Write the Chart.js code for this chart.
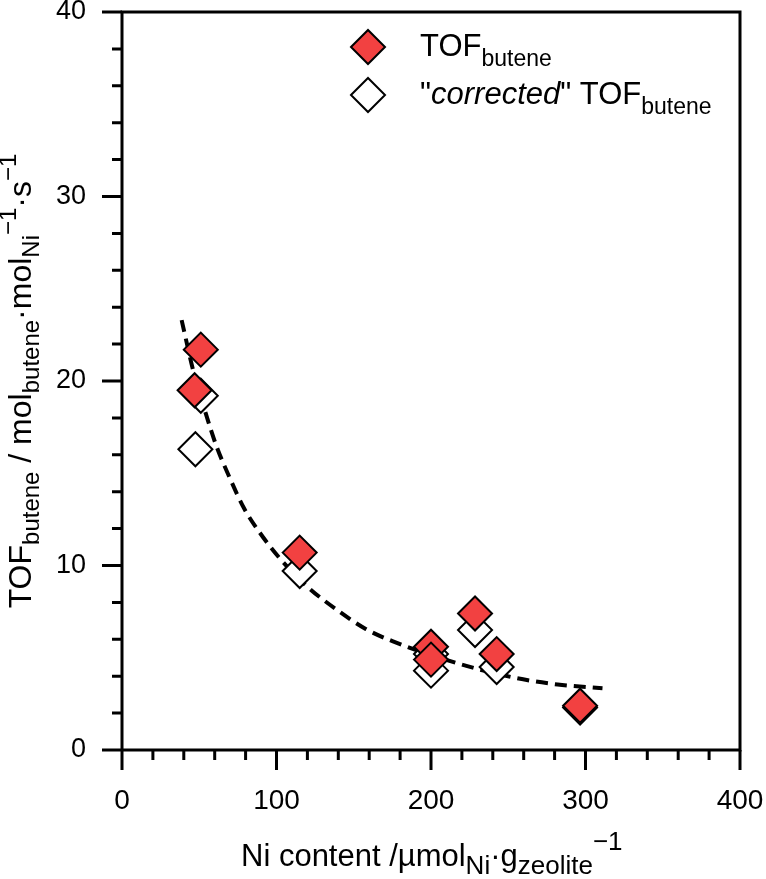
<!DOCTYPE html>
<html>
<head>
<meta charset="utf-8">
<script src="https://cdn.jsdelivr.net/npm/chart.js@4"></script>
<style>
  html, body { margin: 0; padding: 0; background: #fff; }
  #wrap { width: 766px; height: 879px; }
</style>
</head>
<body>
<div id="wrap"><canvas id="chart" width="766" height="879"></canvas></div>
<script>
// values
const tofX = [51, 47, 115, 200, 200, 228.5, 242.5, 296.5];
const tofY = [21.7, 19.5, 10.7, 5.6, 4.9, 7.4, 5.2, 2.4];
const corrX = [51, 47.5, 115, 200, 200, 228.5, 242.5, 296.5];
const corrY = [19.2, 16.3, 9.7, 5.2, 4.3, 6.5, 4.5, 2.3];
const fitX = [38.6, 46, 54, 61, 70, 79, 89, 102, 120, 139, 158, 175, 217, 255, 282, 311];
const fitY = [23.3, 20.6, 18.3, 16.5, 14.7, 13.1, 11.8, 10.4, 8.85, 7.6, 6.55, 5.9, 4.7, 3.9, 3.55, 3.35];
const xTicks = [0, 100, 200, 300, 400];
const yTicks = [0, 10, 20, 30, 40];

const FONT = "'Liberation Sans', Arial, sans-serif";
const RED = '#f24141';
const CLEAR = 'rgba(0,0,0,0)';

const toPts = (xs, ys) => xs.map((x, i) => ({ x: x, y: ys[i] }));

// draws text runs with sub/superscripts along the baseline
function drawRuns(ctx, runs, x, y) {
    let cx = x;
    runs.forEach(r => {
        ctx.font = (r.italic ? 'italic ' : '') + r.size + 'px ' + FONT;
        ctx.fillText(r.t, cx, y + (r.dy || 0));
        cx += ctx.measureText(r.t).width;
    });
    return cx - x;
}
function runsWidth(ctx, runs) {
    let w = 0;
    runs.forEach(r => {
        ctx.font = (r.italic ? 'italic ' : '') + r.size + 'px ' + FONT;
        w += ctx.measureText(r.t).width;
    });
    return w;
}

const decor = {
    id: 'decor',
    afterDraw(chart) {
        const ctx = chart.ctx;
        const xs = chart.scales.x, ys = chart.scales.y;
        const a = chart.chartArea;
        ctx.save();
        ctx.strokeStyle = '#000';
        ctx.fillStyle = '#000';
        ctx.lineWidth = 3;
        ctx.lineCap = 'butt';

        // frame
        ctx.beginPath();
        ctx.moveTo(a.left, a.bottom);
        ctx.lineTo(a.left, a.top);
        ctx.lineTo(a.right, a.top);
        ctx.lineTo(a.right, a.bottom);
        ctx.lineTo(a.left, a.bottom);
        ctx.stroke();

        // ticks (major + minor)
        ctx.beginPath();
        for (let v = 0; v <= 400; v += 20) {
            const px = xs.getPixelForValue(v);
            const len = v % 100 === 0 ? 20 : 10;
            ctx.moveTo(px, a.bottom);
            ctx.lineTo(px, a.bottom + len);
        }
        for (let v = 0; v <= 40; v += 2) {
            const py = ys.getPixelForValue(v);
            const len = v % 10 === 0 ? 20 : 10;
            ctx.moveTo(a.left, py);
            ctx.lineTo(a.left - len, py);
        }
        ctx.stroke();

        // x title
        ctx.textBaseline = 'alphabetic';
        ctx.textAlign = 'left';
        drawRuns(ctx, [
            { t: 'Ni content /\u00b5mol', size: 31 },
            { t: 'Ni', size: 26, dy: 8 },
            { t: '\u00b7g', size: 31 },
            { t: 'zeolite', size: 26, dy: 8 },
            { t: '\u22121', size: 26, dy: -16 }
        ], 241, 866);

        // y title
        const yr = [
            { t: 'TOF', size: 32 },
            { t: 'butene', size: 24, dy: 8 },
            { t: ' / mol', size: 32 },
            { t: 'butene', size: 24, dy: 8 },
            { t: '\u00b7mol', size: 32 },
            { t: 'Ni', size: 24, dy: 8 },
            { t: '\u22121', size: 24, dy: -15 },
            { t: '\u00b7s', size: 32 },
            { t: '\u22121', size: 24, dy: -15 }
        ];
        const yw = runsWidth(ctx, yr);
        ctx.save();
        ctx.translate(31, (a.top + a.bottom) / 2);
        ctx.rotate(-Math.PI / 2);
        drawRuns(ctx, yr, -yw / 2, 0);
        ctx.restore();

        // legend
        const diamond = (cx, cy, r, fill) => {
            ctx.beginPath();
            ctx.moveTo(cx - r, cy);
            ctx.lineTo(cx, cy - r);
            ctx.lineTo(cx + r, cy);
            ctx.lineTo(cx, cy + r);
            ctx.closePath();
            ctx.fillStyle = fill;
            ctx.fill();
            ctx.lineWidth = 2;
            ctx.stroke();
        };
        diamond(368, 47, 17, RED);
        diamond(368, 95, 17, '#fff');
        ctx.fillStyle = '#000';
        drawRuns(ctx, [
            { t: 'TOF', size: 31 },
            { t: 'butene', size: 23, dy: 10 }
        ], 420, 56);
        drawRuns(ctx, [
            { t: '"', size: 31 },
            { t: 'corrected', size: 31, italic: true },
            { t: '" TOF', size: 31 },
            { t: 'butene', size: 23, dy: 10 }
        ], 420, 104);
        ctx.restore();
    }
};

new Chart(document.getElementById('chart'), {
    data: {
        datasets: [
            {
                type: 'scatter',
                label: 'TOF butene',
                data: toPts(tofX, tofY),
                pointStyle: 'rectRot',
                pointRadius: 17,
                pointHoverRadius: 17,
                backgroundColor: RED,
                borderColor: '#000',
                borderWidth: 2,
                order: 0
            },
            {
                type: 'scatter',
                label: 'corrected TOF butene',
                data: toPts(corrX, corrY),
                pointStyle: 'rectRot',
                pointRadius: 17,
                pointHoverRadius: 17,
                backgroundColor: '#fff',
                borderColor: '#000',
                borderWidth: 2,
                order: 1
            },
            {
                type: 'line',
                label: 'fit',
                data: toPts(fitX, fitY),
                borderColor: '#000',
                borderWidth: 4,
                borderDash: [12, 7],
                pointRadius: 0,
                fill: false,
                cubicInterpolationMode: 'monotone',
                order: 2
            }
        ]
    },
    options: {
        responsive: false,
        animation: false,
        events: [],
        // no auto padding for the big diamonds, so the plot box sits at top 12 / right 740
        layout: { autoPadding: false, padding: { left: 0, right: 26, top: 12, bottom: 0 } },
        plugins: { legend: { display: false }, tooltip: { enabled: false } },
        scales: {
            x: {
                type: 'linear',
                min: 0, max: 400,
                // invisible tick marks only reserve the label gap; real ticks come from the plugin
                grid: { display: true, drawOnChartArea: false, drawTicks: true, tickLength: 34, color: CLEAR },
                border: { display: false },
                afterFit: s => { s.height = 129; },
                afterBuildTicks: s => { s.ticks = xTicks.map(v => ({ value: v })); },
                ticks: { color: '#000', padding: 0, font: { family: FONT, size: 28 } }
            },
            y: {
                type: 'linear',
                min: 0, max: 40,
                grid: { display: true, drawOnChartArea: false, drawTicks: true, tickLength: 36, color: CLEAR },
                border: { display: false },
                afterFit: s => { s.width = 122; },
                afterBuildTicks: s => { s.ticks = yTicks.map(v => ({ value: v })); },
                ticks: { color: '#000', padding: 0, font: { family: FONT, size: 27, lineHeight: 0.5 } }
            }
        }
    },
    plugins: [decor]
});
</script>
</body>
</html>
